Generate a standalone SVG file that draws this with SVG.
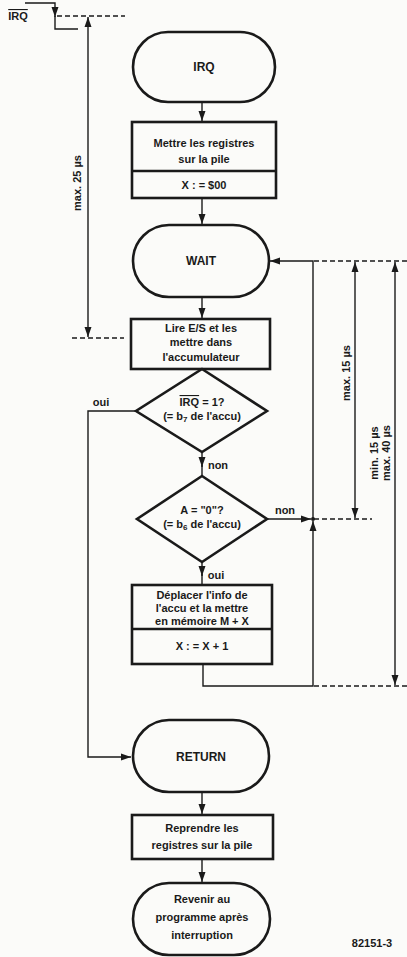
<svg xmlns="http://www.w3.org/2000/svg" width="407" height="957" viewBox="0 0 407 957">
<style>
.sh{fill:none;stroke:#1a1a1a;stroke-width:2.6}
.ln{fill:none;stroke:#1a1a1a;stroke-width:1.4}
.ds{fill:none;stroke:#1a1a1a;stroke-width:1.3;stroke-dasharray:5,3}
.t{font-family:"Liberation Sans",Arial,sans-serif;font-weight:bold;font-size:11px;fill:#1a1a1a;text-anchor:middle}
.tl{font-size:12px}
</style>
<defs>
<marker id="ah" markerUnits="userSpaceOnUse" markerWidth="10" markerHeight="10" viewBox="0 0 10 10" refX="10" refY="5" orient="auto-start-reverse">
<path d="M0,1.5 L10,5 L0,8.5 Z" fill="#1a1a1a"/>
</marker>
</defs>
<rect width="407" height="957" fill="#fbfbf9"/>

<g id="irq-signal">
<path class="ln" d="M25,3 H55 V17" marker-end="url(#ah)"/>
<path class="ln" d="M55,16 V29 H78"/>
<text class="t" x="18" y="20" font-size="9.5" text-decoration="overline">IRQ</text>
</g>

<g id="irq">
<rect class="sh" x="133" y="32" width="142" height="70" rx="35"/>
<text class="t tl" x="204" y="71">IRQ</text>
</g>
<g id="push">
<rect class="sh" x="132" y="122" width="144" height="76"/>
<line class="sh" x1="132" y1="171" x2="276" y2="171"/>
<text class="t" x="204" y="147">Mettre les registres</text>
<text class="t" x="204" y="163">sur la pile</text>
<text class="t" x="204" y="189">X : = $00</text>
</g>
<g id="wait">
<rect class="sh" x="133" y="225" width="136" height="72" rx="36"/>
<text class="t tl" x="201" y="265">WAIT</text>
</g>
<g id="read">
<rect class="sh" x="131" y="319" width="139" height="50"/>
<text class="t" x="201" y="332">Lire E/S et les</text>
<text class="t" x="201" y="346">mettre dans</text>
<text class="t" x="201" y="361">l'accumulateur</text>
</g>
<g id="test-irq">
<polygon class="sh" points="202,369 267,411 202,452 136,411"/>
<text class="t" x="202" y="406"><tspan text-decoration="overline">IRQ</tspan> = 1?</text>
<text class="t" x="202" y="420">(= b<tspan font-size="8" dy="2">7</tspan><tspan dy="-2"> de l'accu)</tspan></text>
</g>
<g id="test-a">
<polygon class="sh" points="202,476 267,519 202,562 137,519"/>
<text class="t" x="202" y="514">A = "0"?</text>
<text class="t" x="202" y="528">(= b<tspan font-size="8" dy="2">6</tspan><tspan dy="-2"> de l'accu)</tspan></text>
</g>
<g id="store">
<rect class="sh" x="132" y="585" width="140" height="79"/>
<line class="sh" x1="132" y1="629" x2="272" y2="629"/>
<text class="t" x="202" y="599">Déplacer l'info de</text>
<text class="t" x="202" y="612">l'accu et la mettre</text>
<text class="t" x="202" y="625">en mémoire M + X</text>
<text class="t" x="202" y="650">X : = X + 1</text>
</g>
<g id="return">
<rect class="sh" x="133" y="720" width="136" height="72" rx="36"/>
<text class="t tl" x="201" y="761">RETURN</text>
</g>
<g id="pop">
<rect class="sh" x="132" y="815" width="141" height="44"/>
<text class="t" x="202" y="832">Reprendre les</text>
<text class="t" x="202" y="849">registres sur la pile</text>
</g>
<g id="resume">
<rect class="sh" x="133" y="883" width="137" height="72" rx="36"/>
<text class="t" x="202" y="903">Revenir au</text>
<text class="t" x="202" y="921">programme après</text>
<text class="t" x="202" y="939">interruption</text>
</g>

<g id="connectors">
<path class="ln" d="M202,102 V121" marker-end="url(#ah)"/>
<path class="ln" d="M202,198 V224" marker-end="url(#ah)"/>
<path class="ln" d="M202,297 V318" marker-end="url(#ah)"/>
<path class="ln" d="M202,452 V467" marker-end="url(#ah)"/>
<path class="ln" d="M202,465 V476"/>
<path class="ln" d="M202,562 V576" marker-end="url(#ah)"/>
<path class="ln" d="M202,574 V585"/>
<path class="ln" d="M203,664 V686 H313 V521" marker-end="url(#ah)"/>
<path class="ln" d="M267,519 H311" marker-end="url(#ah)"/>
<path class="ln" d="M313,519 V261 H270" marker-end="url(#ah)"/>
<circle cx="313" cy="519" r="2" fill="#1a1a1a"/>
<path class="ln" d="M136,411 H88 V757 H131" marker-end="url(#ah)"/>
<path class="ln" d="M202,792 V814" marker-end="url(#ah)"/>
<path class="ln" d="M202,859 V882" marker-end="url(#ah)"/>
<text class="t" x="218" y="469">non</text>
<text class="t" x="216" y="579">oui</text>
<text class="t" x="285" y="514">non</text>
<text class="t" x="101" y="406">oui</text>
</g>

<g id="timing">
<path class="ds" d="M57,16 H125"/>
<path class="ds" d="M72,338 H124"/>
<path class="ds" d="M314,261 H407"/>
<path class="ds" d="M314,519 H372"/>
<path class="ds" d="M314,686 H407"/>
<path class="ln" d="M88,17 V337" marker-start="url(#ah)" marker-end="url(#ah)"/>
<path class="ln" d="M355,262 V518" marker-start="url(#ah)" marker-end="url(#ah)"/>
<path class="ln" d="M395,262 V685" marker-start="url(#ah)" marker-end="url(#ah)"/>
<text class="t" transform="translate(81,183) rotate(-90)" font-size="10">max. 25 µs</text>
<text class="t" transform="translate(350,373) rotate(-90)" font-size="10">max. 15 µs</text>
<text class="t" transform="translate(378,453) rotate(-90)" font-size="10">min. 15 µs</text>
<text class="t" transform="translate(390,453) rotate(-90)" font-size="10">max. 40 µs</text>
<text class="t" x="372" y="947" font-size="11">82151-3</text>
</g>
</svg>
